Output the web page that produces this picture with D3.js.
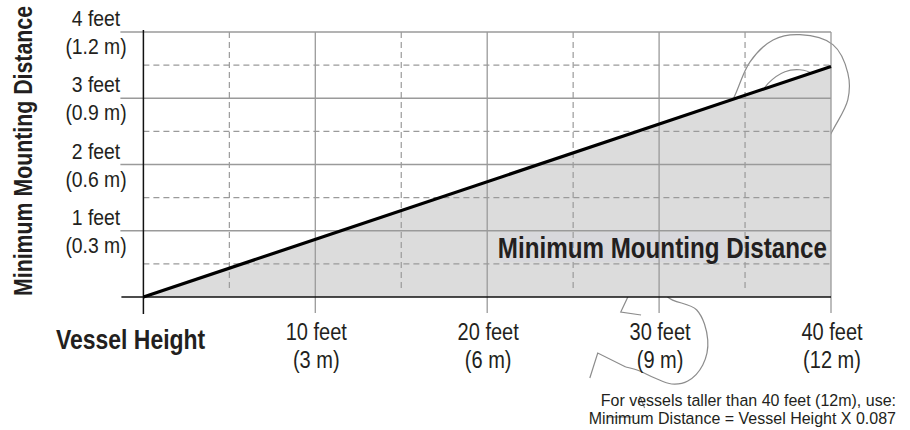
<!DOCTYPE html>
<html>
<head>
<meta charset="utf-8">
<script src="https://cdn.jsdelivr.net/npm/d3@7"></script>
<style>
  html, body { margin: 0; padding: 0; background: #ffffff; }
  svg { display: block; }
  .reg { font-family: "Liberation Sans", Arial, sans-serif; fill: #231f20; }
  .bold { font-family: "Liberation Sans", Arial, sans-serif; font-weight: bold; fill: #231f20; }
</style>
</head>
<body>
<svg id="chart" width="910" height="430"></svg>
<script>
// ---- data ----
const heights = [0, 40];            // vessel height (feet)
const distances = [0, 3.48];        // minimum mounting distance (feet) = height x 0.087
const xMajor = [10, 20, 30, 40];
const xMinor = [5, 15, 25, 35];
const yMajor = [1, 2, 3, 4];
const yMinor = [0.5, 1.5, 2.5, 3.5];
const xLabelsFeet = ["10 feet", "20 feet", "30 feet", "40 feet"];
const xLabelsMetric = ["(3 m)", "(6 m)", "(9 m)", "(12 m)"];
const yLabelsFeet = ["1 feet", "2 feet", "3 feet", "4 feet"];
const yLabelsMetric = ["(0.3 m)", "(0.6 m)", "(0.9 m)", "(1.2 m)"];
const xTitle = "Vessel Height";
const yTitle = "Minimum Mounting Distance";
const areaTitle = "Minimum Mounting Distance";
const footnote = ["For vessels taller than 40 feet (12m), use:", "Minimum Distance = Vessel Height X 0.087"];
// faint background outline (in chart units)
const outlineLoop = [[33.6,2.6],[34.42,3.05],[35.29,3.55],[36.63,3.88],[38.19,3.96],[40.11,3.81],[40.98,3.38],[40.98,2.98],[40.11,2.52],[39.0,2.0]];
const outlineArc = [[35.8,3.0],[36.33,3.22],[37.32,3.40],[38.19,3.43],[38.89,3.37],[39.3,3.2]];
const outlineHook = [[28.4,0.3],[28.18,0],[27.77,-0.227],[28.95,-0.272]];
const outlineCurve = [[30.0,0.3],[30.5,0],[32.19,-0.196],[32.83,-0.649],[32.54,-1.026],[31.67,-1.268],[30.73,-1.313],[29.75,-1.223],[28.87,-1.117],[28.06,-1.057]];
const outlineZig = [[28.06,-1.057],[26.43,-0.845],[25.97,-1.223]];
const outlineStrike = [[26.96,-1.811],[28.47,-1.811]];
const outlineTick = [[28.87,-1.494],[29.16,-1.675]];

// ---- layout ----
const svg = d3.select("#chart");
const x = d3.scaleLinear().domain([0, 40]).range([143.4, 831]);
const y = d3.scaleLinear().domain([0, 4]).range([297, 32]);
const grid = "#9a9a9a";
const narrow = 0.82;

// outline (drawn first, hidden under the fill)
const ol = d3.line().x(d => x(d[0])).y(d => y(d[1])).curve(d3.curveCatmullRom);
const oll = d3.line().x(d => x(d[0])).y(d => y(d[1]));
[outlineLoop, outlineArc, outlineCurve].forEach(p =>
  svg.append("path").attr("d", ol(p)).attr("fill", "none").attr("stroke", "#8c8c8c").attr("stroke-width", 1.2));
[outlineHook, outlineZig, outlineStrike, outlineTick].forEach(p =>
  svg.append("path").attr("d", oll(p)).attr("fill", "none").attr("stroke", "#8c8c8c").attr("stroke-width", 1.2));

// area fill
const area = d3.area().x((d, i) => x(heights[i])).y0(y(0)).y1((d, i) => y(distances[i]));
svg.append("path").datum(distances).attr("d", area).attr("fill", "#dcdcdc");

// label background box
svg.append("rect").attr("x", 500).attr("y", 232).attr("width", 240).attr("height", 30).attr("fill", "#d8d8dc");

// dashed grid
svg.selectAll(".hmin").data(yMinor).join("line")
  .attr("x1", x(0)).attr("x2", x(40)).attr("y1", d => y(d)).attr("y2", d => y(d))
  .attr("stroke", grid).attr("stroke-width", 1.2).attr("stroke-dasharray", "6,4");
svg.selectAll(".vmin").data(xMinor).join("line")
  .attr("x1", d => x(d)).attr("x2", d => x(d)).attr("y1", y(4)).attr("y2", y(0) - 5)
  .attr("stroke", grid).attr("stroke-width", 1.2).attr("stroke-dasharray", "6,4");

// solid grid
svg.selectAll(".hmaj").data(yMajor).join("line")
  .attr("x1", x(0) - 23).attr("x2", x(40)).attr("y1", d => y(d)).attr("y2", d => y(d))
  .attr("stroke", grid).attr("stroke-width", 1.3);
svg.selectAll(".vmaj").data(xMajor).join("line")
  .attr("x1", d => x(d)).attr("x2", d => x(d)).attr("y1", y(4)).attr("y2", y(0) + 16)
  .attr("stroke", grid).attr("stroke-width", 1.3);

// axes
svg.append("line").attr("x1", x(0) - 22).attr("x2", x(40)).attr("y1", y(0)).attr("y2", y(0))
  .attr("stroke", "#111").attr("stroke-width", 1.5);
svg.append("line").attr("x1", x(0)).attr("x2", x(0)).attr("y1", y(4) - 2).attr("y2", y(0) + 17)
  .attr("stroke", "#111").attr("stroke-width", 1.5);

// data line
const line = d3.line().x((d, i) => x(heights[i])).y(d => y(d));
svg.append("path").datum(distances).attr("d", line).attr("fill", "none")
  .attr("stroke", "#000").attr("stroke-width", 3.2);

// y tick labels
svg.selectAll(".yl1").data(yMajor).join("text").attr("class", "reg")
  .attr("transform", d => `translate(96,${y(d) - 6}) scale(0.9,1)`).attr("text-anchor", "middle")
  .style("font-size", "21.5px").text((d, i) => yLabelsFeet[i]);
svg.selectAll(".yl2").data(yMajor).join("text").attr("class", "reg")
  .attr("transform", d => `translate(96,${y(d) + 22}) scale(0.9,1)`).attr("text-anchor", "middle")
  .style("font-size", "21.5px").text((d, i) => yLabelsMetric[i]);

// x tick labels
svg.selectAll(".xl1").data(xMajor).join("text").attr("class", "reg")
  .attr("transform", d => `translate(${x(d) + 1},340) scale(0.87,1)`).attr("text-anchor", "middle")
  .style("font-size", "23px").text((d, i) => xLabelsFeet[i]);
svg.selectAll(".xl2").data(xMajor).join("text").attr("class", "reg")
  .attr("transform", d => `translate(${x(d) + 1},368) scale(0.87,1)`).attr("text-anchor", "middle")
  .style("font-size", "23px").text((d, i) => xLabelsMetric[i]);

// titles
svg.append("text").attr("class", "bold").attr("transform", `translate(56,349) scale(${narrow},1)`)
  .style("font-size", "28px").text(xTitle);
svg.append("text").attr("class", "bold").attr("transform", `translate(32,151) rotate(-90) scale(${narrow},1)`)
  .attr("text-anchor", "middle").style("font-size", "26px").text(yTitle);
svg.append("text").attr("class", "bold").attr("transform", `translate(827,258) scale(${narrow},1)`)
  .attr("text-anchor", "end").style("font-size", "29.5px").text(areaTitle);

// footnote
svg.selectAll(".fn").data(footnote).join("text").attr("class", "reg")
  .attr("transform", (d, i) => `translate(896,${406 + i * 18}) scale(0.97,1)`).attr("text-anchor", "end")
  .style("font-size", "16.5px").text(d => d);
</script>
</body>
</html>
